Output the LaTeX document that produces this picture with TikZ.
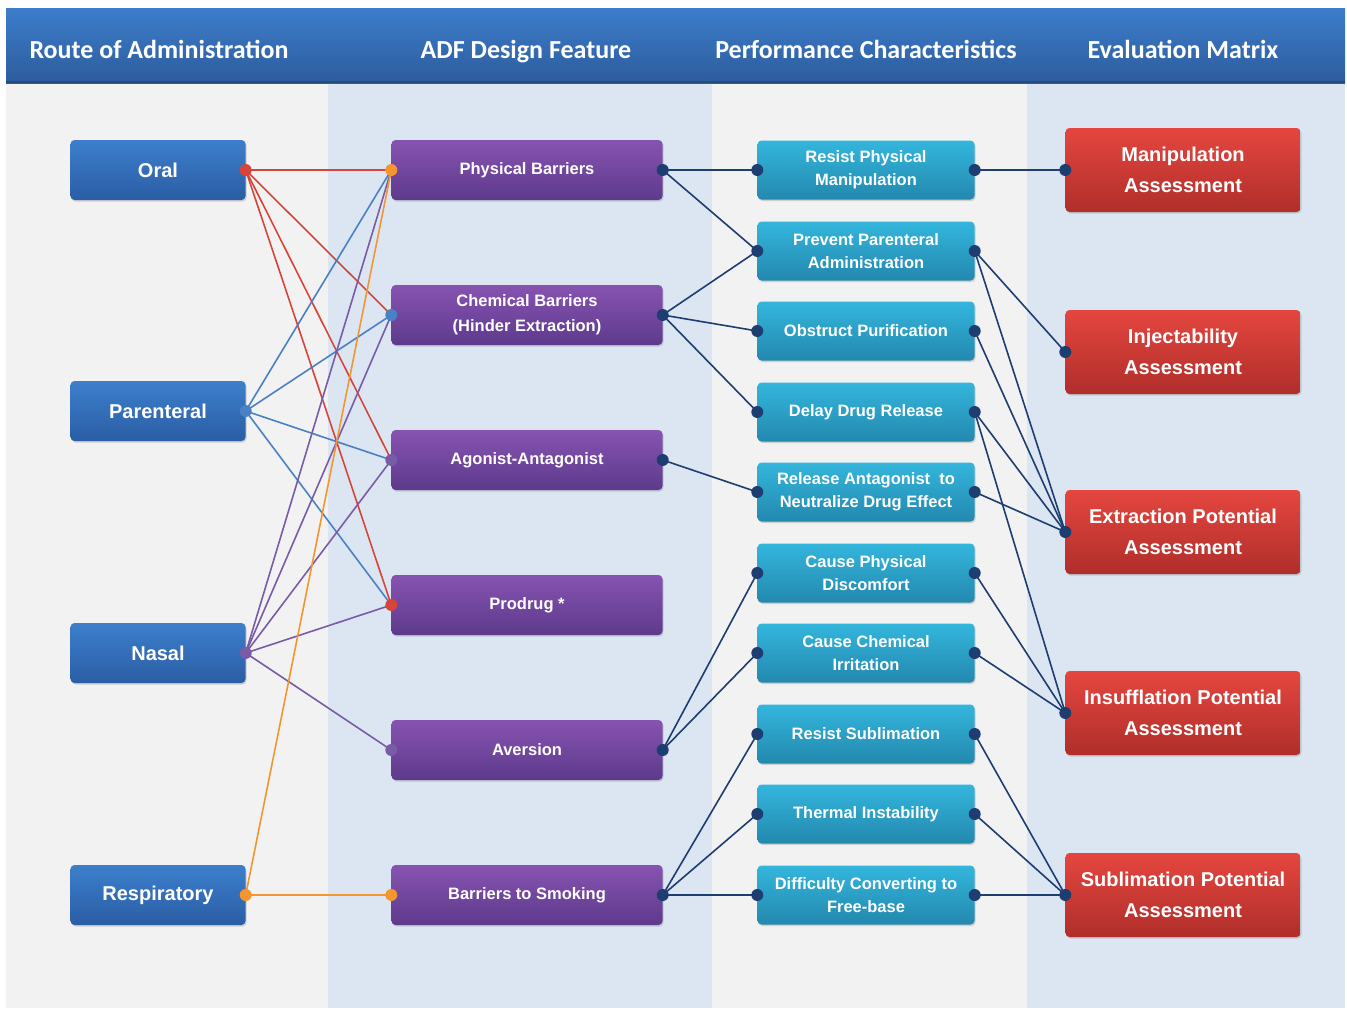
\documentclass[tikz,border=0pt]{standalone}
\usepackage{fontspec}
\setmainfont{Liberation Sans}
\newfontfamily\headfont{Carlito}
\usetikzlibrary{shadows}
\definecolor{hdtop}{HTML}{3C7DCA}
\definecolor{hdbot}{HTML}{2D5C9E}
\definecolor{colgray}{HTML}{F2F2F2}
\definecolor{colblue}{HTML}{DCE6F2}
\definecolor{rtop}{HTML}{3D7FCC}
\definecolor{rbot}{HTML}{2A5DA4}
\definecolor{atop}{HTML}{8753B1}
\definecolor{abot}{HTML}{5D3A8C}
\definecolor{ptop}{HTML}{34B6DD}
\definecolor{pbot}{HTML}{2388AE}
\definecolor{etop}{HTML}{E5463F}
\definecolor{ebot}{HTML}{B02E2A}
\definecolor{oralc}{HTML}{D5453A}
\definecolor{parc}{HTML}{4A80C4}
\definecolor{nasc}{HTML}{7A5BA6}
\definecolor{resc}{HTML}{F3962F}
\definecolor{navy}{HTML}{1E3D70}

\begin{document}
\begin{tikzpicture}
 [x=1pt,y=-1pt,
 box/.style={rounded corners=4pt,align=center,text=white,inner sep=2pt,
  drop shadow={opacity=0.3,shadow xshift=1pt,shadow yshift=-1.5pt}},
 route/.style={box,minimum width=175pt,minimum height=60pt,top color=rtop,bottom color=rbot,
  font=\fontsize{20}{24}\selectfont\bfseries},
 adf/.style={box,minimum width=271pt,minimum height=60pt,top color=atop,bottom color=abot,
  font=\fontsize{16.5}{25}\selectfont\bfseries},
 perf/.style={box,minimum width=217pt,minimum height=59pt,top color=ptop,bottom color=pbot,
  font=\fontsize{16.5}{23}\selectfont\bfseries},
 evalbox/.style={box,minimum width=235pt,minimum height=84pt,top color=etop,bottom color=ebot,
  font=\fontsize{20}{31}\selectfont\bfseries},
 header/.style={text=white,text height=18pt,text depth=5pt,
  font=\headfont\fontsize{26}{30}\selectfont\bfseries},
 link/.style={line width=1.6pt}]
\useasboundingbox (0,0) rectangle (1347,1010);
\fill[white] (0,0) rectangle (1347,1010);

% column backgrounds and header band
\fill[colgray] (6,83) rectangle (328,1008);
\fill[colblue] (328,83) rectangle (712,1008);
\fill[colgray] (712,83) rectangle (1027,1008);
\fill[colblue] (1027,83) rectangle (1345,1008);
\shade[top color=hdtop,bottom color=hdbot] (6,8) rectangle (1345,83);
\draw[hdbot!80!black,line width=1.5pt] (6,82) -- (1345,82);

\node[header] (h1) at (159,52) {Route of Administration};
\node[header] (h2) at (526,52) {ADF Design Feature};
\node[header] (h3) at (866,52) {Performance Characteristics};
\node[header] (h4) at (1183,52) {Evaluation Matrix};

% route of administration
\node[route] (r1) at (158,170) {Oral};
\node[route] (r2) at (158,411) {Parenteral};
\node[route] (r3) at (158,653) {Nasal};
\node[route] (r4) at (158,895) {Respiratory};

% ADF design features
\node[adf] (a1) at (527,170) {Physical Barriers};
\node[adf] (a2) at (527,315) {Chemical Barriers\\(Hinder Extraction)};
\node[adf] (a3) at (527,460) {Agonist-Antagonist};
\node[adf] (a4) at (527,605) {Prodrug *};
\node[adf] (a5) at (527,750) {Aversion};
\node[adf] (a6) at (527,895) {Barriers to Smoking};

% performance characteristics
\node[perf] (p1) at (866,170) {Resist Physical\\Manipulation};
\node[perf] (p2) at (866,251) {Prevent Parenteral\\Administration};
\node[perf] (p3) at (866,331) {Obstruct Purification};
\node[perf] (p4) at (866,412) {Delay Drug Release};
\node[perf] (p5) at (866,492) {Release Antagonist\ \ to\\Neutralize Drug Effect};
\node[perf] (p6) at (866,573) {Cause Physical\\Discomfort};
\node[perf] (p7) at (866,653) {Cause Chemical\\Irritation};
\node[perf] (p8) at (866,734) {Resist Sublimation};
\node[perf] (p9) at (866,814) {Thermal Instability};
\node[perf] (p10) at (866,895) {Difficulty Converting to\\Free-base};

% evaluation matrix
\node[evalbox] (e1) at (1183,170) {Manipulation\\Assessment};
\node[evalbox] (e2) at (1183,352) {Injectability\\Assessment};
\node[evalbox] (e3) at (1183,532) {Extraction Potential\\Assessment};
\node[evalbox] (e4) at (1183,713) {Insufflation Potential\\Assessment};
\node[evalbox] (e5) at (1183,895) {Sublimation Potential\\Assessment};

% route -> feature
\draw[link,oralc] (r1.east) edge (a1.west) edge (a2.west) edge (a3.west) edge (a4.west);
\draw[link,parc] (r2.east) edge (a1.west) edge (a2.west) edge (a3.west) edge (a4.west);
\draw[link,nasc] (r3.east) edge (a1.west) edge (a2.west) edge (a3.west) edge (a4.west) edge (a5.west);
\draw[link,resc] (r4.east) edge (a1.west) edge (a6.west);

% feature -> characteristic
\draw[link,navy] (a1.east) edge (p1.west) edge (p2.west);
\draw[link,navy] (a2.east) edge (p2.west) edge (p3.west) edge (p4.west);
\draw[link,navy] (a3.east) edge (p5.west);
\draw[link,navy] (a5.east) edge (p6.west) edge (p7.west);
\draw[link,navy] (a6.east) edge (p8.west) edge (p9.west) edge (p10.west);

% characteristic -> evaluation
\draw[link,navy] (p1.east) edge (e1.west);
\draw[link,navy] (p2.east) edge (e2.west) edge (e3.west);
\draw[link,navy] (p3.east) edge (e3.west);
\draw[link,navy] (p4.east) edge (e3.west) edge (e4.west);
\draw[link,navy] (p5.east) edge (e3.west);
\draw[link,navy] (p6.east) edge (e4.west);
\draw[link,navy] (p7.east) edge (e4.west);
\draw[link,navy] (p8.east) edge (e5.west);
\draw[link,navy] (p9.east) edge (e5.west);
\draw[link,navy] (p10.east) edge (e5.west);

% dots
\fill[oralc] (r1.east) circle (6pt);
\fill[parc] (r2.east) circle (6pt);
\fill[nasc] (r3.east) circle (6pt);
\fill[resc] (r4.east) circle (6pt);
\fill[resc] (a1.west) circle (6pt);
\fill[parc] (a2.west) circle (6pt);
\fill[nasc] (a3.west) circle (6pt);
\fill[oralc] (a4.west) circle (6pt);
\fill[nasc] (a5.west) circle (6pt);
\fill[resc] (a6.west) circle (6pt);
\foreach \n in {a1,a2,a3,a5,a6}
  \fill[navy] (\n.east) circle (6pt);
\foreach \n in {p1,p2,p3,p4,p5,p6,p7,p8,p9,p10}
  \fill[navy] (\n.west) circle (6pt) (\n.east) circle (6pt);
\foreach \n in {e1,e2,e3,e4,e5}
  \fill[navy] (\n.west) circle (6pt);
\end{tikzpicture}
\end{document}
